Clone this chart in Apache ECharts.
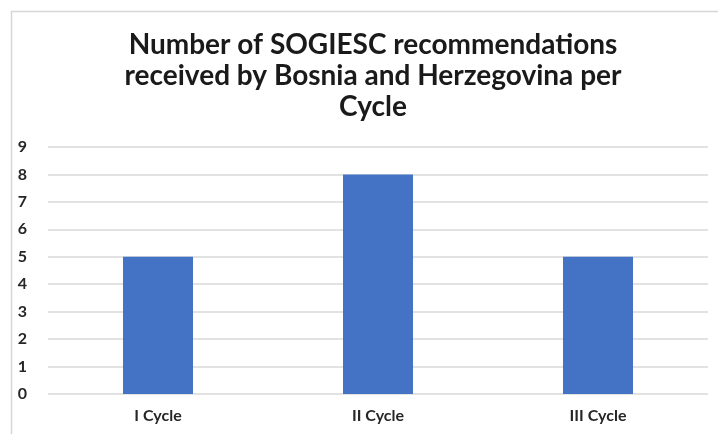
<!DOCTYPE html>
<html lang="en">
<head>
    <meta charset="UTF-8">
    <title>SOGIESC recommendations</title>
    <script src="https://cdn.jsdelivr.net/npm/echarts@6/dist/echarts.min.js"></script>
    <style>
        html, body { margin: 0; padding: 0; background: #fff; }
        #main { width: 718px; height: 434px; }
    </style>
</head>
<body>
<div id="main"></div>
<script type="text/javascript">
    // data
    var cycles = ['I Cycle', 'II Cycle', 'III Cycle'];
    var recommendations = [5, 8, 5];

    var myChart = echarts.init(document.getElementById('main'));
    var option = {
        backgroundColor: '#fff',
        textStyle: { fontFamily: 'Lato' },
        title: {
            text: 'Number of SOGIESC recommendations\nreceived by Bosnia and Herzegovina per\nCycle',
            left: 368,
            top: 24,
            textAlign: 'center',
            textStyle: {
                fontFamily: 'Lato',
                fontSize: 28,
                fontWeight: 'bold',
                lineHeight: 31,
                color: '#1a1a1a'
            }
        },
        // chart-area frame, only left/top edges are inside the picture
        graphic: [
            {
                type: 'rect',
                left: 9,
                top: 9,
                shape: { width: 900, height: 600 },
                style: { fill: 'none', stroke: '#d6d6d6', lineWidth: 1.5 },
                silent: true
            }
        ],
        grid: {
            left: 48,
            right: 10,
            top: 147,
            bottom: 40
        },
        xAxis: {
            type: 'category',
            data: cycles,
            axisLine: { show: false },
            axisTick: { show: false },
            axisLabel: {
                margin: 14,
                fontFamily: 'Lato',
                fontSize: 16,
                fontWeight: 'bold',
                color: '#262626'
            }
        },
        yAxis: {
            type: 'value',
            min: 0,
            max: 9,
            interval: 1,
            axisLine: { show: false },
            axisTick: { show: false },
            axisLabel: {
                margin: 21,
                fontFamily: 'Lato',
                fontSize: 16,
                fontWeight: 'bold',
                color: '#262626'
            },
            splitLine: { lineStyle: { color: '#d9d9d9', width: 1.5 } }
        },
        series: [
            {
                type: 'bar',
                data: recommendations,
                barWidth: 70,
                itemStyle: { color: '#4472C4' }
            }
        ]
    };
    myChart.setOption(option);
</script>
</body>
</html>
